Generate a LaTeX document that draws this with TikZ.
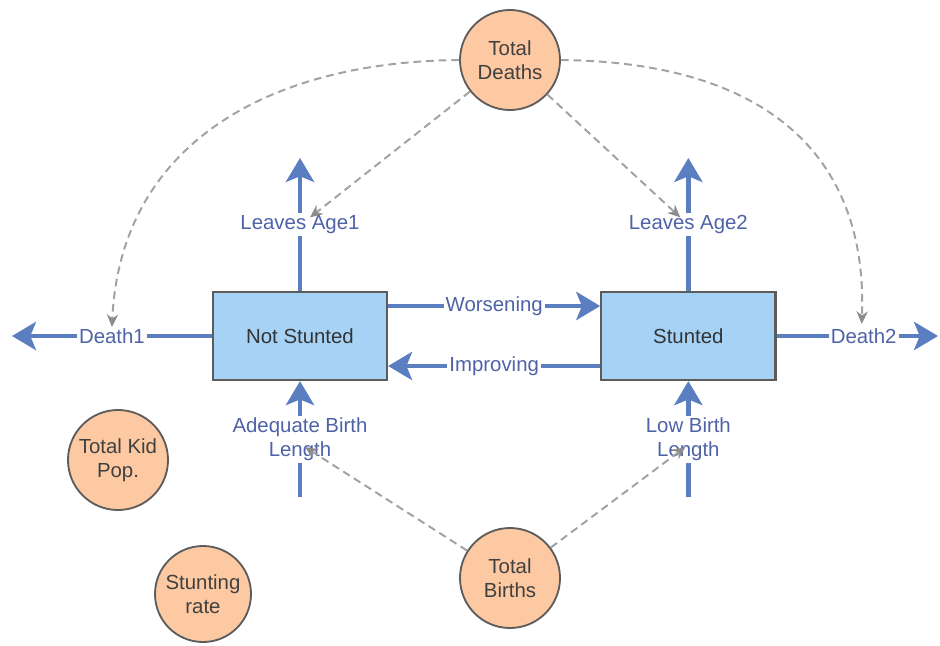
\documentclass[tikz,border=0pt]{standalone}
\usepackage{fontspec}
\setmainfont{Liberation Sans}
\usetikzlibrary{positioning, arrows.meta, calc}

\definecolor{flowblue}{HTML}{5A7EC0}
\definecolor{lblblue}{HTML}{4E62A8}
\definecolor{stockfill}{HTML}{A6D3F5}
\definecolor{auxfill}{HTML}{FCC9A2}
\definecolor{edgegray}{HTML}{5C5C5C}
\definecolor{linkgray}{HTML}{A2A2A2}

\begin{document}
\begin{tikzpicture}[
        x=0.025cm, y=-0.025cm,
        font=\fontsize{14.5}{17}\selectfont,
        stock/.style = {draw=edgegray, line width=1.6pt, fill=stockfill, minimum width=4.35cm, minimum height=2.2cm, text=black!80},
        aux/.style   = {circle, draw=edgegray, line width=1.3pt, fill=auxfill, minimum size=2.5cm, inner sep=0pt, align=center, text=black!75},
        flow/.style  = {draw=flowblue, line width=3.5pt, -{Stealth[length=17pt, width=20pt, inset=4pt]}},
        rate/.style  = {fill=white, text=lblblue, inner sep=1.5pt, align=center},
        link/.style  = {draw=linkgray, line width=1.4pt, dash pattern=on 5.5pt off 3.5pt, -{Stealth[length=9pt, width=8pt, color=gray!90]}},
    ]
        \useasboundingbox (0,0) rectangle (940,645);

        % stocks
        \node[stock] (notst) at (300,336) {Not Stunted};
        \node[stock, right=5.3cm of notst] (stunt) {Stunted};

        % auxiliaries
        \node[aux] (tdeaths) at (510,60)  {Total\\Deaths};
        \node[aux] (tbirths) at (510,578) {Total\\Births};
        \node[aux] (kidpop)  at (118,460) {Total Kid\\Pop.};
        \node[aux, minimum size=2.4cm] (srate) at (203,594) {Stunting\\rate};

        % flow ends
        \coordinate (d1end) at (12,336);
        \coordinate (d2end) at (938,336);
        \coordinate (l1end) at (300,158);
        \coordinate (ab0)   at (300,497);
        \coordinate (l2end) at (stunt.north |- l1end);
        \coordinate (lb0)   at (stunt.south |- ab0);

        % flows
        \draw[flow] (notst.west) -- node[rate] (death1) {Death1} (d1end);
        \draw[flow] (stunt.east) -- node[rate, pos=0.54] (death2) {Death2} (d2end);
        \draw[flow] (notst.north) -- node[rate] (leave1) {Leaves Age1} (l1end);
        \draw[flow] (stunt.north) -- node[rate] (leave2) {Leaves Age2} (l2end);
        \draw[flow] (ab0) -- node[rate] (adeq) {Adequate Birth\\Length} (notst.south);
        \draw[flow] (lb0) -- node[rate] (lowb) {Low Birth\\Length} (stunt.south);
        \draw[flow] ([yshift=0.75cm]notst.east) -- node[rate] (worse) {Worsening} ([yshift=0.75cm]stunt.west);
        \draw[flow] ([yshift=-0.75cm]stunt.west) -- node[rate] (improve) {Improving} ([yshift=-0.75cm]notst.east);

        % links
        \draw[link] (tdeaths.west) .. controls (260,62) and (120,150) .. ($(death1.center)+(0,-9)$);
        \draw[link] (tdeaths.east) .. controls (760,62) and (868,150) .. ($(death2.center)+(-2,-12)$);
        \draw[link] (tdeaths) -- ($(leave1.center)+(10,-7)$);
        \draw[link] (tdeaths) -- ($(leave2.center)+(-8,-7)$);
        \draw[link] (tbirths) -- ($(adeq.center)+(5,8)$);
        \draw[link] (tbirths) -- ($(lowb.center)+(-3,8)$);
\end{tikzpicture}
\end{document}
